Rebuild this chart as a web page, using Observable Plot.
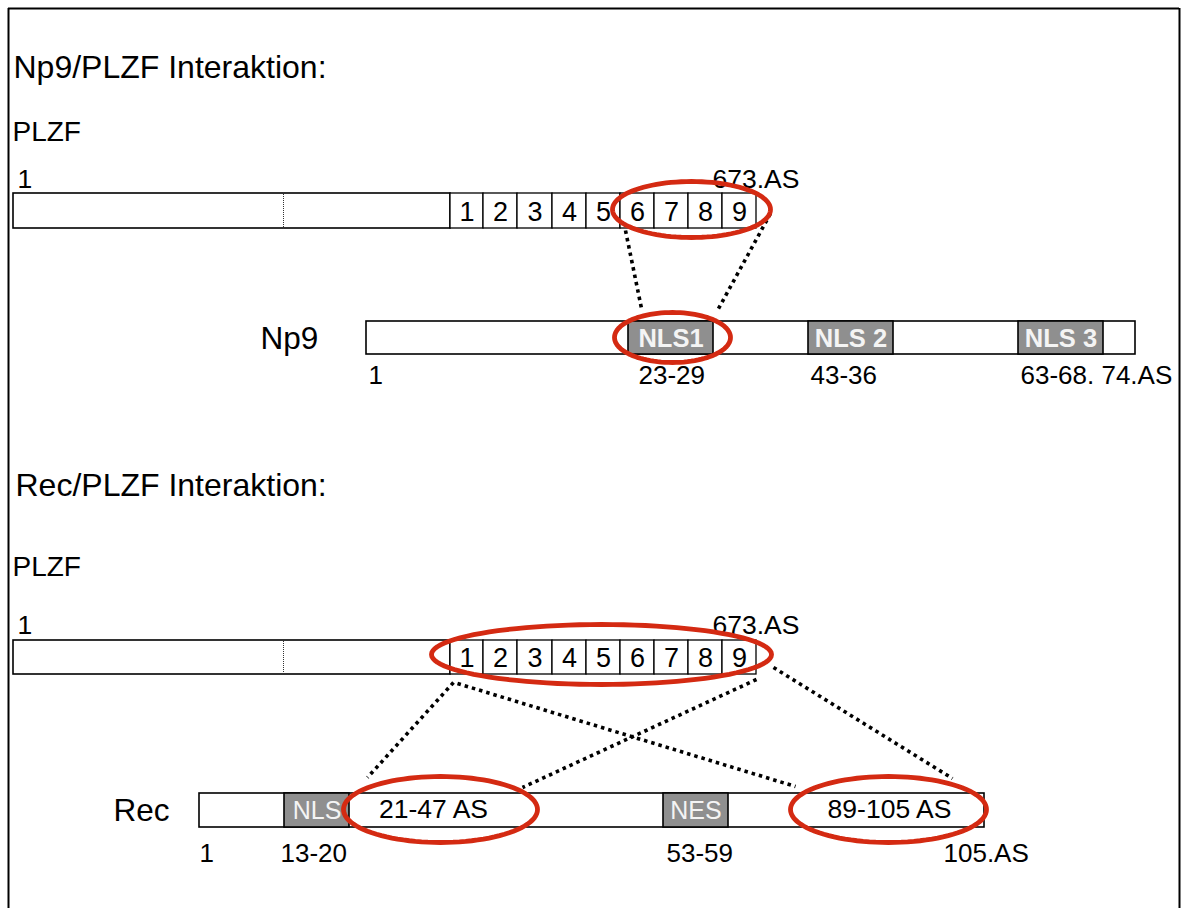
<!DOCTYPE html>
<html>
<head>
<meta charset="utf-8">
<script src="https://cdn.jsdelivr.net/npm/d3@7"></script>
<script src="https://cdn.jsdelivr.net/npm/@observablehq/plot@0.6"></script>
<style>
  html, body { margin: 0; padding: 0; background: #fff; }
  #chart svg { display: block; }
</style>
</head>
<body>
<div id="chart"></div>
<script>
// ---------- data (labels of the diagram) ----------
const sectionTitles = ["Np9/PLZF Interaktion:", "Rec/PLZF Interaktion:"];
const proteinNames = ["PLZF", "PLZF", "Np9", "Rec"];
const plzfEnds = ["1", "673.AS"];
const zincFingers = ["1", "2", "3", "4", "5", "6", "7", "8", "9"];
const np9Domains = ["NLS1", "NLS 2", "NLS 3"];
const np9Positions = ["1", "23-29", "43-36", "63-68. 74.AS"];
const recDomains = ["NLS", "NES"];
const recRegions = ["21-47 AS", "89-105 AS"];
const recPositions = ["1", "13-20", "53-59", "105.AS"];

// ---------- layout (diagram units = pixels) ----------
const W = 1183, H = 908;
const red = "#d42a12", gray = "#8f8f8f";
const titleLayout = [{x: 13, y: 77}, {x: 15, y: 495}];
const nameLayout = [{x: 12, y: 140, s: 28}, {x: 12, y: 575, s: 28}, {x: 260, y: 348, s: 31.5}, {x: 113, y: 820, s: 31.5}];
const plzfRows = [{y1: 193, y2: 228, lab: 187}, {y1: 640, y2: 674, lab: 633}];
const plzfBar = {x1: 13, x2: 450, split: 283};
const fingerEdges = [450, 483, 517, 552, 586, 620, 654, 688, 722, 756];
const plzfEndX = [17, 712];
const np9Bar = {x1: 366, x2: 1135, y1: 321, y2: 354, lab: 383};
const np9DomainX = [[628, 713], [808, 893], [1018, 1103]];
const np9PosX = [368, 638, 810, 1020];
const recBar = {x1: 199, x2: 984, y1: 793, y2: 827, lab: 861};
const recDomainX = [[284, 349], [663, 728]];
const recRegionX = [433, 889];
const recPosX = [199, 280, 666, 943];
const ellipses = [
  {cx: 691, cy: 209, rx: 79, ry: 28},
  {cx: 672, cy: 337, rx: 58, ry: 25},
  {cx: 601, cy: 654, rx: 170, ry: 30},
  {cx: 440, cy: 809, rx: 97, ry: 33},
  {cx: 888, cy: 809, rx: 98, ry: 33}
];
const connectors = [
  {x1: 625, y1: 230, x2: 641, y2: 308},
  {x1: 770, y1: 213, x2: 717, y2: 310},
  {x1: 453, y1: 682, x2: 367, y2: 777},
  {x1: 457, y1: 683, x2: 795, y2: 786},
  {x1: 756, y1: 679, x2: 522, y2: 787},
  {x1: 773, y1: 667, x2: 952, y2: 778}
];

// ---------- derived tables ----------
const titles = sectionTitles.map((t, i) => ({text: t, ...titleLayout[i]}));
const names = proteinNames.map((t, i) => ({text: t, ...nameLayout[i]}));
const plzfMain = plzfRows.map(r => ({x1: plzfBar.x1, x2: plzfBar.x2, y1: r.y1, y2: r.y2}));
const plzfSplit = plzfRows.map(r => ({x: plzfBar.split, y1: r.y1 + 1, y2: r.y2 - 1}));
const fingerBoxes = plzfRows.flatMap(r => zincFingers.map((f, i) => ({
  text: f, x1: fingerEdges[i], x2: fingerEdges[i + 1], y1: r.y1, y2: r.y2,
  xc: (fingerEdges[i] + fingerEdges[i + 1]) / 2, yb: (r.y1 + r.y2) / 2 + 9.5
})));
const plzfEndLabels = plzfRows.flatMap(r => plzfEnds.map((t, i) => ({text: t, x: plzfEndX[i], y: r.lab})));
const proteinBars = [np9Bar, recBar];
const np9Boxes = np9Domains.map((t, i) => ({text: t, x1: np9DomainX[i][0], x2: np9DomainX[i][1], y1: np9Bar.y1, y2: np9Bar.y2}));
const recBoxes = recDomains.map((t, i) => ({text: t, x1: recDomainX[i][0], x2: recDomainX[i][1], y1: recBar.y1, y2: recBar.y2}));
const posLabels = [
  ...np9Positions.map((t, i) => ({text: t, x: np9PosX[i], y: np9Bar.lab})),
  ...recPositions.map((t, i) => ({text: t, x: recPosX[i], y: recBar.lab}))
];
const regionLabels = recRegions.map((t, i) => ({text: t, x: recRegionX[i], y: recBar.y1 + 24}));
const ellipsePoints = ellipses.flatMap((e, k) => d3.range(97).map(i => {
  const a = (i / 96) * 2 * Math.PI;
  return {id: k, x: e.cx + e.rx * Math.cos(a), y: e.cy + e.ry * Math.sin(a)};
}));

const mid = d => (d.x1 + d.x2) / 2;

const chart = Plot.plot({
  width: W,
  height: H,
  margin: 0,
  x: {domain: [0, W], range: [0, W], axis: null},
  y: {domain: [0, H], range: [0, H], axis: null},
  style: {fontFamily: "'Liberation Sans', Arial, sans-serif", background: "#fff", color: "#000"},
  marks: [
    // frame
    Plot.ruleX([8, 1179], {y1: 8, y2: H, stroke: "#000", strokeWidth: 2}),
    Plot.ruleY([8], {x1: 8, x2: 1179, stroke: "#000", strokeWidth: 2}),
    // titles & names
    Plot.text(titles, {x: "x", y: "y", text: "text", textAnchor: "start", lineAnchor: "bottom", fontSize: 32, fill: "#000"}),
    Plot.text(names, {x: "x", y: "y", text: "text", textAnchor: "start", lineAnchor: "bottom", fontSize: d => d.s, fill: "#000"}),
    // PLZF bars
    Plot.rect(plzfMain, {x1: "x1", x2: "x2", y1: "y1", y2: "y2", fill: "#fff", stroke: "#000", strokeWidth: 1.6}),
    Plot.ruleX(plzfSplit, {x: "x", y1: "y1", y2: "y2", stroke: "#333", strokeWidth: 1, strokeDasharray: "1,1"}),
    Plot.rect(fingerBoxes, {x1: "x1", x2: "x2", y1: "y1", y2: "y2", fill: "#fff", stroke: "#000", strokeWidth: 1.3}),
    Plot.text(fingerBoxes, {x: "xc", y: "yb", text: "text", lineAnchor: "bottom", fontSize: 27, fill: "#000"}),
    Plot.text(plzfEndLabels, {x: "x", y: "y", text: "text", textAnchor: "start", lineAnchor: "bottom", fontSize: 26.5, fill: "#000"}),
    // Np9 and Rec bars
    Plot.rect(proteinBars, {x1: "x1", x2: "x2", y1: "y1", y2: "y2", fill: "#fff", stroke: "#000", strokeWidth: 1.6}),
    Plot.rect(np9Boxes, {x1: "x1", x2: "x2", y1: "y1", y2: "y2", fill: gray, stroke: "#000", strokeWidth: 1.6}),
    Plot.text(np9Boxes, {x: mid, y: d => d.y2 - 8, text: "text", lineAnchor: "bottom", fontSize: 25.5, fontWeight: "bold", fill: "#f4f4f4"}),
    Plot.rect(recBoxes, {x1: "x1", x2: "x2", y1: "y1", y2: "y2", fill: gray, stroke: "#000", strokeWidth: 1.6}),
    Plot.text(recBoxes, {x: mid, y: d => d.y2 - 9, text: "text", lineAnchor: "bottom", fontSize: 25, fill: "#f4f4f4"}),
    Plot.text(regionLabels, {x: "x", y: "y", text: "text", lineAnchor: "bottom", fontSize: 26.5, fill: "#000"}),
    Plot.text(posLabels, {x: "x", y: "y", text: "text", textAnchor: "start", lineAnchor: "bottom", fontSize: 26, fill: "#000"}),
    // dotted connectors
    Plot.link(connectors, {x1: "x1", y1: "y1", x2: "x2", y2: "y2", stroke: "#000", strokeWidth: 3.6, strokeDasharray: "3.5,4"}),
    // red ellipses
    Plot.line(ellipsePoints, {x: "x", y: "y", z: "id", stroke: red, strokeWidth: 4.8, curve: "linear"})
  ]
});
document.getElementById("chart").append(chart);
</script>
</body>
</html>
